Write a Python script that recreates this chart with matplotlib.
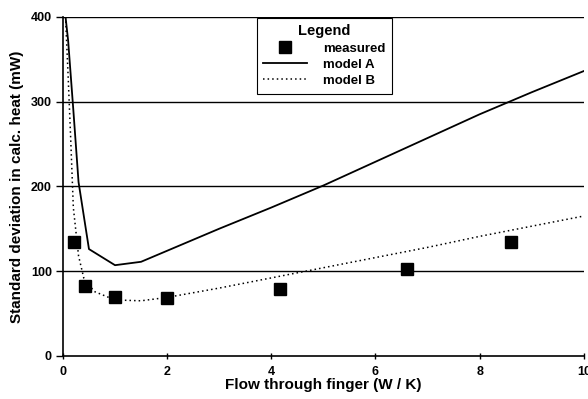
import matplotlib
matplotlib.use("Agg")
import matplotlib.pyplot as plt

plt.rcParams['font.family'] = ['Liberation Sans', 'DejaVu Sans']
plt.rcParams['font.weight'] = 'bold'

# Measured standard deviations
flow_meas = [0.21, 0.42, 1.0, 2.0, 4.17, 6.6, 8.6]
sd_meas = [134, 83, 70, 68, 79, 102, 134]

# Model A
flow_a = [0.05, 0.1, 0.2, 0.3, 0.5, 1.0, 1.5, 2.0, 3.0, 4.0, 5.0, 6.0, 7.0, 8.0, 9.0, 10.0]
sd_a = [400, 372, 290, 205, 126, 107, 111, 124, 150, 175, 201, 229, 257, 285, 311, 336]

# Model B
flow_b = [0.05, 0.1, 0.15, 0.2, 0.3, 0.4, 0.6, 1.0, 1.5, 2.0, 3.0, 4.0, 5.0, 6.0, 7.0, 8.0, 9.0, 10.0]
sd_b = [400, 330, 255, 175, 118, 92, 76, 66, 65, 69, 80, 92, 104, 116, 128, 141, 153, 165]

fig = plt.figure(figsize=(5.88, 3.99), dpi=100)
ax = fig.add_axes([0.107, 0.108, 0.886, 0.85])

for y in [100, 200, 300, 400]:
    ax.axhline(y, color="black", lw=1.0, zorder=1)

ax.plot(flow_meas, sd_meas, ls="none", marker="s", ms=8, color="black", label="measured", zorder=3)
ax.plot(flow_a, sd_a, color="black", lw=1.3, label="model A", zorder=2)
ax.plot(flow_b, sd_b, color="black", lw=1.1, ls=(0, (1, 2)), label="model B", zorder=2)

ax.set_xlim(0, 10)
ax.set_ylim(0, 400)
ax.set_xticks([0, 2, 4, 6, 8, 10])
ax.set_yticks([0, 100, 200, 300, 400])
ax.tick_params(axis="both", labelsize=9, width=1)
ax.tick_params(axis="x", direction="inout", length=4, pad=5)
ax.tick_params(axis="y", direction="out", length=5, pad=3)
for lab in ax.get_xticklabels() + ax.get_yticklabels():
    lab.set_fontweight("bold")

for side in ["top", "right"]:
    ax.spines[side].set_visible(False)
ax.spines["left"].set_linewidth(1.2)
ax.spines["bottom"].set_linewidth(1.2)

ax.set_xlabel("Flow through finger (W / K)", fontsize=11, fontweight="bold", labelpad=0)
ax.set_ylabel("Standard deviation in calc. heat (mW)", fontsize=11, fontweight="bold", labelpad=5)

leg = ax.legend(title="Legend", loc="upper left", bbox_to_anchor=(0.372, 0.997),
                fontsize=9.5, title_fontsize=10.5, fancybox=False, framealpha=1,
                edgecolor="black", handlelength=3.3, borderpad=0.5,
                labelspacing=0.3, handletextpad=1.2, borderaxespad=0)
leg._legend_box.align = "center"
leg.get_title().set_fontweight("bold")
leg.get_frame().set_linewidth(0.8)

fig.savefig("out.png", dpi=100)
